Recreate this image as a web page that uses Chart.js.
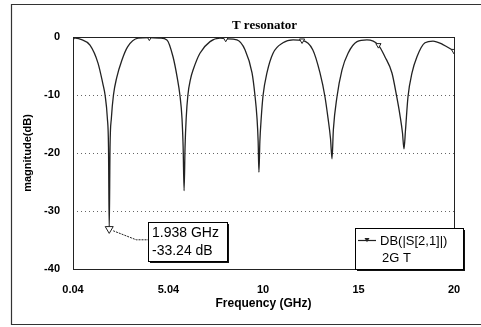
<!DOCTYPE html>
<html lang="en">
<head>
  <meta charset="UTF-8">
  <title>T resonator</title>
  <script src="https://cdn.jsdelivr.net/npm/chart.js"></script>
  <style>
    body { margin: 0; background: #fff; }
    #wrap { width: 481px; height: 327px; }
  </style>
</head>
<body>
  <div id="wrap"><canvas id="chart" width="481" height="327"></canvas></div>

  <script>
    // frequency points (GHz) and S21 magnitude (dB)
    const freq = [
      0.04, 0.45, 0.93, 1.35, 1.6, 1.72, 1.84, 1.9, 1.938, 1.98, 2.05, 2.16, 2.33, 2.6, 2.9, 3.45, 4.04,
      4.6, 4.96, 5.28, 5.5, 5.64, 5.75, 5.81, 5.86, 5.91, 5.97, 6.06, 6.2, 6.33, 6.69, 7.22, 7.74, 8.04,
      8.63, 9.05, 9.42, 9.57, 9.68, 9.74, 9.78, 9.83, 9.9, 10.0, 10.2, 10.52, 11.04, 11.57, 12.04,
      12.6, 12.98, 13.24, 13.4, 13.53, 13.61, 13.68, 13.87, 14.13, 14.45, 14.92, 15.44, 16.04,
      16.38, 16.75, 17.0, 17.17, 17.3, 17.38, 17.46, 17.59, 17.8, 18.06, 18.48, 18.9, 19.42, 20
    ];
    const s21 = [
      -0.1, -0.4, -1.4, -4.5, -8, -10, -14, -19, -33.24, -19, -14, -10, -7, -4, -1.7, -0.2, -0.1,
      -0.2, -0.5, -3.4, -7, -10, -14, -19, -26.5, -19, -14, -10, -7.2, -5.7, -2.8, -0.8, -0.2, -0.3,
      -0.5, -2.2, -6.2, -10, -14, -18, -23.3, -18, -14, -10, -6.2, -2.8, -1, -0.5, -0.6,
      -2.2, -6.2, -10.3, -14, -17.5, -21, -16, -10.3, -5.7, -2.8, -0.8, -0.5, -1.4,
      -3.4, -6.2, -10.3, -13.5, -16.5, -19.3, -16, -10.3, -6.2, -3.4, -1, -0.7, -1.3, -2.4
    ];
    // frequencies that carry a trace marker
    const markerFreqs = [0.04, 4.04, 8.04, 12.04, 16.04, 20];

    const xTickValues = [0.04, 5.04, 10, 15, 20];
    const xTickLabels = ['0.04', '5.04', '10', '15', '20'];

    const markerPoint = { f: 1.938, db: -33.24 };
    const markerText = ['1.938 GHz', '-33.24 dB'];
    const legendText = ['DB(|S[2,1]|)', '2G T'];
    const titleText = 'T resonator';

    const sans = "'Liberation Sans', Arial, sans-serif";

    function downTri(ctx, x, y, r) {
      ctx.beginPath();
      ctx.moveTo(x - r, y - r * 0.8);
      ctx.lineTo(x + r, y - r * 0.8);
      ctx.lineTo(x, y + r * 0.9);
      ctx.closePath();
    }

    function shadowBox(ctx, x, y, w, h) {
      ctx.fillStyle = '#111';
      ctx.fillRect(x + 2, y + 2, w, h);
      ctx.fillStyle = '#fff';
      ctx.fillRect(x, y, w, h);
      ctx.strokeStyle = '#000';
      ctx.lineWidth = 1;
      ctx.strokeRect(x + 0.5, y + 0.5, w, h);
    }

    // frame, dotted grid, plot border, title, marker callout and legend box
    const decorations = {
      id: 'decorations',
      beforeDraw(chart) {
        const ctx = chart.ctx;
        ctx.save();
        ctx.fillStyle = '#fff';
        ctx.fillRect(0, 0, chart.width, chart.height);
        ctx.strokeStyle = '#333';
        ctx.lineWidth = 1.2;
        ctx.beginPath();
        ctx.moveTo(11.5, 325);
        ctx.lineTo(11.5, 4.5);
        ctx.lineTo(chart.width, 4.5);
        ctx.moveTo(11.5, 324.5);
        ctx.lineTo(chart.width, 324.5);
        ctx.stroke();
        ctx.restore();
      },
      beforeDatasetsDraw(chart) {
        const ctx = chart.ctx;
        const a = chart.chartArea;
        const ys = chart.scales.y;
        ctx.save();
        ctx.strokeStyle = '#666';
        ctx.lineWidth = 1;
        ctx.setLineDash([1, 3]);
        ys.ticks.forEach(t => {
          if (t.value >= 0 || t.value <= -40) return;
          const y = Math.round(ys.getPixelForValue(t.value)) + 0.5;
          ctx.beginPath();
          ctx.moveTo(a.left, y);
          ctx.lineTo(a.right, y);
          ctx.stroke();
        });
        ctx.restore();
      },
      afterDatasetsDraw(chart) {
        const ctx = chart.ctx;
        const a = chart.chartArea;
        const xs = chart.scales.x, ys = chart.scales.y;
        ctx.save();

        // plot border
        ctx.strokeStyle = '#222';
        ctx.lineWidth = 1;
        ctx.strokeRect(Math.round(a.left) + 0.5, Math.round(a.top) + 0.5,
          Math.round(a.right - a.left), Math.round(a.bottom - a.top));

        // title
        ctx.fillStyle = '#000';
        ctx.font = "bold 13px 'Liberation Serif', 'Times New Roman', serif";
        ctx.textAlign = 'center';
        ctx.textBaseline = 'middle';
        ctx.fillText(titleText, (a.left + a.right) / 2 + 1, 26);

        // marker on the first notch
        const mx = xs.getPixelForValue(markerPoint.f);
        const my = ys.getPixelForValue(markerPoint.db);
        ctx.strokeStyle = '#222';
        ctx.lineWidth = 1;
        ctx.fillStyle = '#fff';
        downTri(ctx, mx, my, 4);
        ctx.fill();
        ctx.stroke();

        const bx = 148, by = 222, bw = 79, bh = 39;
        ctx.setLineDash([2, 1]);
        ctx.beginPath();
        ctx.moveTo(mx + 4, my + 1);
        ctx.lineTo(mx + 27, my + 10);
        ctx.lineTo(bx, my + 10);
        ctx.stroke();
        ctx.setLineDash([]);

        shadowBox(ctx, bx, by, bw, bh);
        ctx.fillStyle = '#000';
        ctx.font = '14px ' + sans;
        ctx.textAlign = 'left';
        ctx.fillText(markerText[0], bx + 4, by + 11);
        ctx.fillText(markerText[1], bx + 4, by + 29);

        // legend
        const lx = 355, ly = 228, lw = 108, lh = 41;
        shadowBox(ctx, lx, ly, lw, lh);
        ctx.strokeStyle = '#222';
        ctx.lineWidth = 1.2;
        ctx.beginPath();
        ctx.moveTo(lx + 3, ly + 12.5);
        ctx.lineTo(lx + 21, ly + 12.5);
        ctx.stroke();
        ctx.fillStyle = '#222';
        downTri(ctx, lx + 12, ly + 12, 2.5);
        ctx.fill();
        ctx.fillStyle = '#000';
        ctx.font = '13px ' + sans;
        ctx.fillText(legendText[0], lx + 25, ly + 13);
        ctx.fillText(legendText[1], lx + 27, ly + 30);

        ctx.restore();
      }
    };

    new Chart(document.getElementById('chart').getContext('2d'), {
      type: 'line',
      data: {
        datasets: [{
          label: legendText[0],
          data: freq.map((f, i) => ({ x: f, y: s21[i] })),
          borderColor: '#222',
          borderWidth: 1.3,
          fill: false,
          cubicInterpolationMode: 'monotone',
          pointStyle: 'triangle',
          rotation: 180,
          pointRadius: c => markerFreqs.includes(freq[c.dataIndex]) ? 3 : 0,
          pointBackgroundColor: '#fff',
          pointBorderColor: '#222',
          pointBorderWidth: 1
        }]
      },
      options: {
        responsive: false,
        animation: false,
        layout: { padding: { left: 12, right: 27, top: 37, bottom: 0 } },
        plugins: {
          legend: { display: false },
          tooltip: { enabled: false }
        },
        scales: {
          x: {
            type: 'linear',
            min: 0.04,
            max: 20,
            afterBuildTicks: s => { s.ticks = xTickValues.map(v => ({ value: v })); },
            afterFit: s => { s.height = 58; },
            grid: { display: false, drawTicks: false },
            border: { display: false },
            ticks: {
              padding: 14,
              color: '#000',
              font: { family: sans, size: 11, weight: 'bold' },
              maxRotation: 0,
              callback: (v, i) => xTickLabels[i]
            },
            title: {
              display: true,
              text: 'Frequency (GHz)',
              color: '#000',
              font: { family: sans, size: 12, weight: 'bold' },
              padding: 16
            }
          },
          y: {
            min: -40,
            max: 0,
            afterFit: s => { s.width = 61; },
            grid: { display: false, drawTicks: false },
            border: { display: false },
            ticks: {
              stepSize: 10,
              padding: 13,
              color: '#000',
              font: { family: sans, size: 11, weight: 'bold' }
            },
            title: {
              display: true,
              text: 'magnitude(dB)',
              color: '#000',
              font: { family: sans, size: 11, weight: 'bold' },
              padding: 9
            }
          }
        }
      },
      plugins: [decorations]
    });
  </script>
</body>
</html>
